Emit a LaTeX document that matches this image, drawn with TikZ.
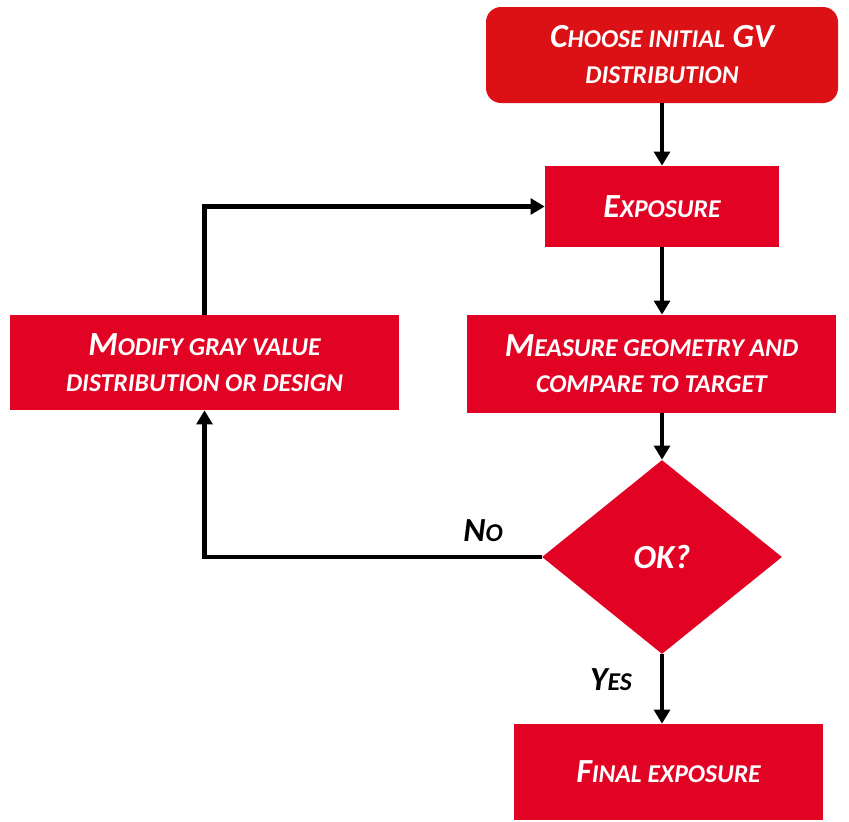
\documentclass[tikz,border=0pt]{standalone}
\usepackage{fontspec}
\setmainfont{Carlito}
\usetikzlibrary{arrows.meta,positioning,shapes.geometric,calc}

\definecolor{startred}{RGB}{219,17,22}
\definecolor{boxred}{RGB}{226,2,35}

% fake small caps: the rest of a word in smaller capitals
\newcommand{\sml}[1]{{\fontsize{14.6pt}{20pt}\selectfont #1}}

\begin{document}
\begin{tikzpicture}[
    every node/.style={font=\fontsize{19.2pt}{20.5pt}\selectfont\bfseries\itshape, align=center},
    >={Triangle[length=8pt,width=9pt]},
    box/.style={fill=boxred, text=white, inner sep=0pt},
    flow/.style={->, line width=2.3pt}
  ]
  \useasboundingbox (0,0) rectangle (16.98,-16.42);

  \node[box, fill=startred, rounded corners=0.3cm, minimum width=7.04cm, minimum height=1.92cm] (start) at (13.24,-1.10)
    {C\sml{HOOSE INITIAL} GV\\\sml{DISTRIBUTION}};
  \node[box, minimum width=4.68cm, minimum height=1.62cm] (expo) at (13.24,-4.13) {E\sml{XPOSURE}};
  \node[box, minimum width=7.38cm, minimum height=1.96cm] (meas) at (13.03,-7.28)
    {M\sml{EASURE GEOMETRY AND}\\\sml{COMPARE TO TARGET}};
  \node[box, minimum width=7.78cm, minimum height=1.90cm] (modi) at (4.09,-7.25)
    {M\sml{ODIFY GRAY VALUE}\\\sml{DISTRIBUTION OR DESIGN}};
  \node[box, diamond, aspect=1.237, minimum width=4.8cm, minimum height=3.88cm] (ok) at (13.24,-11.14) {OK?};
  \node[box, minimum width=6.18cm, minimum height=1.92cm] (fin) at (13.37,-15.44) {F\sml{INAL EXPOSURE}};

  \node (no) at (9.66,-10.62) {N\sml{O}};
  \node (yes) at (12.22,-13.60) {Y\sml{ES}};

  % main line
  \draw[flow] (start) -- (expo);
  \draw[flow] (expo.south) -- (expo.south |- meas.north);
  \draw[flow] (meas.south -| ok.north) -- (ok.north);
  \draw[flow] (ok.south) -- (ok.south |- fin.north);

  % loop back
  \draw[flow] (ok.west) -| (modi.south);
  \draw[flow] (modi.north) |- (expo.west);
\end{tikzpicture}
\end{document}
